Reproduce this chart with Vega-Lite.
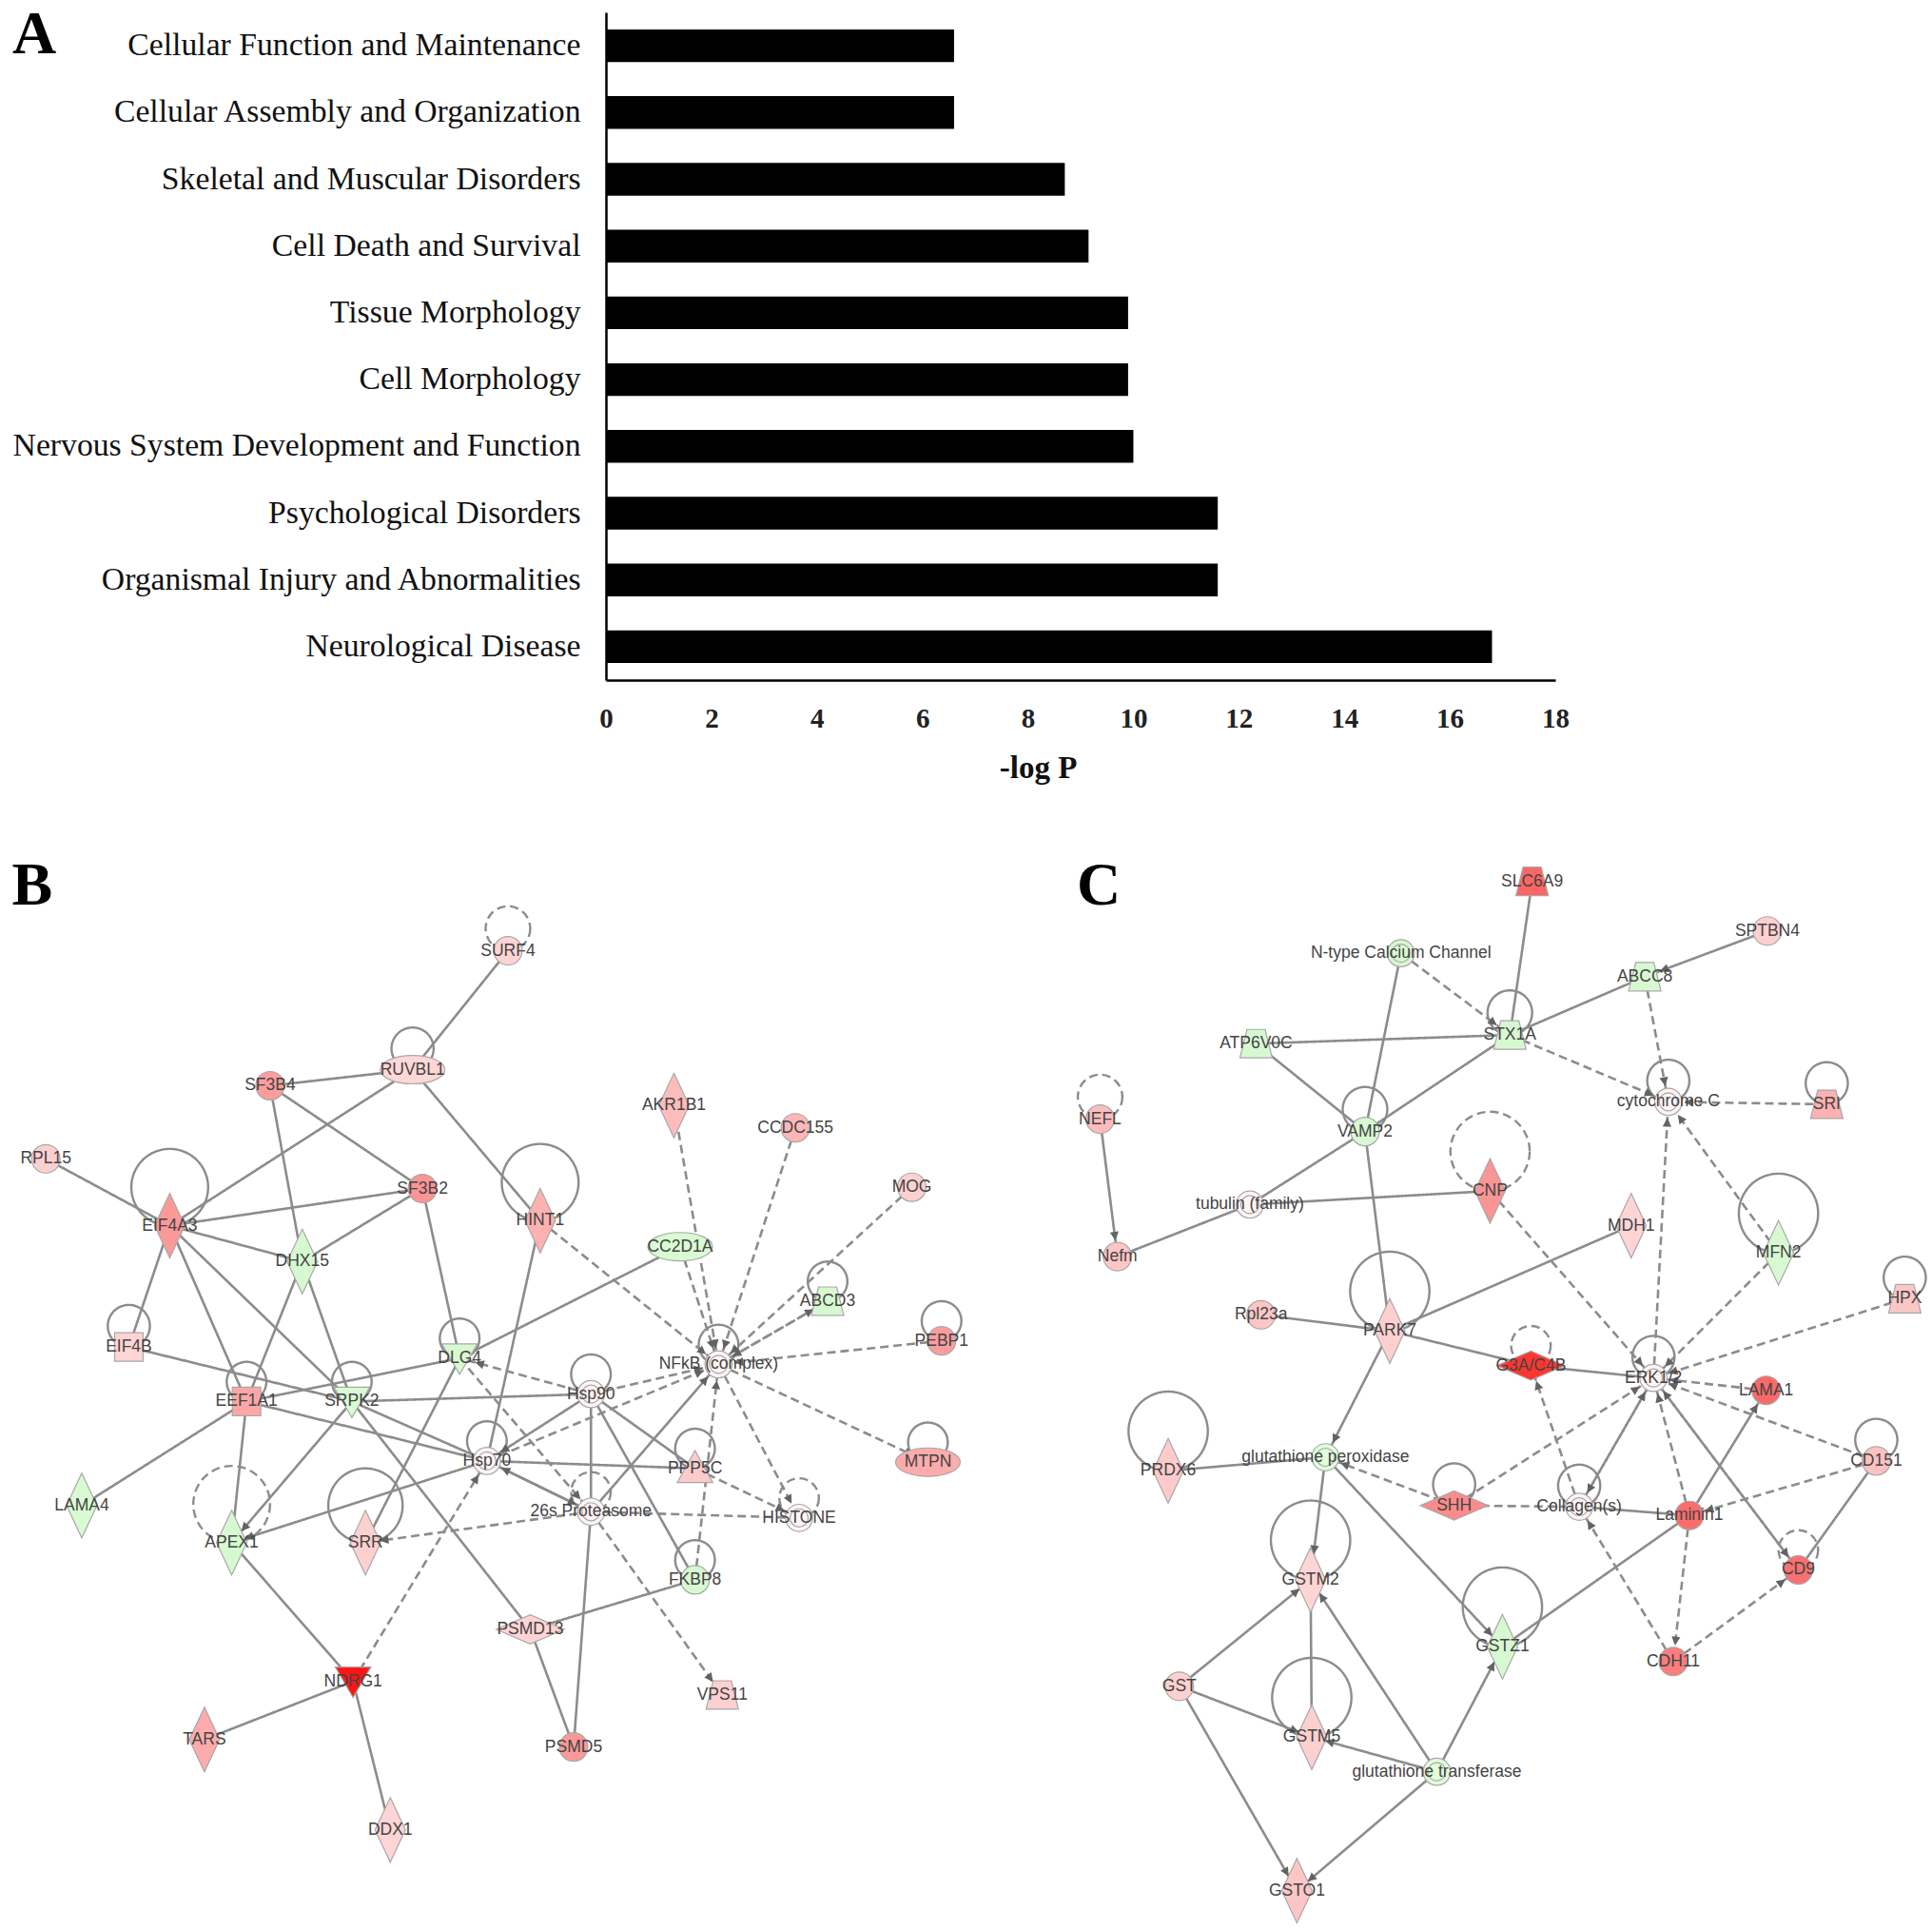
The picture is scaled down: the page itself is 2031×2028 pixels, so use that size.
{
"$schema":"https://vega.github.io/schema/vega-lite/v6.json",
"background":"white",
"padding":{"left":0,"top":5,"right":0,"bottom":0},
"config":{"view":{"stroke":null}},
"bounds":"flush",
"spacing":872,
"datasets":{
"bars":[
{"category":"Cellular Function and Maintenance","logp":6.6},
{"category":"Cellular Assembly and Organization","logp":6.6},
{"category":"Skeletal and Muscular Disorders","logp":8.7},
{"category":"Cell Death and Survival","logp":9.15},
{"category":"Tissue Morphology","logp":9.9},
{"category":"Cell Morphology","logp":9.9},
{"category":"Nervous System Development and Function","logp":10},
{"category":"Psychological Disorders","logp":11.6},
{"category":"Organismal Injury and Abnormalities","logp":11.6},
{"category":"Neurological Disease","logp":16.8}],
"nodesB":[
{"id":"SURF4","x":410,"y":768,"type":"other","fc":0.9,"loop":36,"loopKind":"dashed"},
{"id":"RUVBL1","x":333,"y":864,"type":"regulator","fc":0.8,"loop":34,"loopKind":"solid"},
{"id":"SF3B4","x":218,"y":877,"type":"other","fc":2},
{"id":"SF3B2","x":341,"y":960,"type":"other","fc":2.2},
{"id":"RPL15","x":37,"y":936,"type":"other","fc":1},
{"id":"EIF4A3","x":137,"y":990,"type":"enzyme","fc":2.1,"loop":62,"loopKind":"solid"},
{"id":"DHX15","x":244,"y":1019,"type":"enzyme","fc":-0.8},
{"id":"HINT1","x":436,"y":986,"type":"enzyme","fc":1.6,"loop":62,"loopKind":"solid"},
{"id":"AKR1B1","x":544,"y":893,"type":"enzyme","fc":1.4},
{"id":"CCDC155","x":642,"y":911,"type":"other","fc":1.5},
{"id":"MOG","x":736,"y":959,"type":"other","fc":1},
{"id":"CC2D1A","x":549,"y":1007,"type":"regulator","fc":-0.7},
{"id":"ABCD3","x":668,"y":1051,"type":"transporter","fc":-0.8,"loop":32,"loopKind":"solid"},
{"id":"PEBP1","x":760,"y":1083,"type":"other","fc":2,"loop":32,"loopKind":"solid"},
{"id":"MTPN","x":749,"y":1181,"type":"regulator","fc":1.7,"loop":32,"loopKind":"solid"},
{"id":"NFkB (complex)","x":580,"y":1102,"type":"complex","fc":0,"loop":32,"loopKind":"solid"},
{"id":"EIF4B","x":104,"y":1088,"type":"cytokine","fc":0.9,"loop":34,"loopKind":"solid"},
{"id":"DLG4","x":371,"y":1097,"type":"kinase","fc":-0.8,"loop":32,"loopKind":"solid"},
{"id":"EEF1A1","x":199,"y":1132,"type":"cytokine","fc":1.8,"loop":32,"loopKind":"solid"},
{"id":"SRPK2","x":284,"y":1132,"type":"kinase","fc":-0.7,"loop":32,"loopKind":"solid"},
{"id":"Hsp90","x":477,"y":1126,"type":"complex","fc":0,"loop":32,"loopKind":"solid"},
{"id":"Hsp70","x":393,"y":1180,"type":"complex","fc":0,"loop":32,"loopKind":"solid"},
{"id":"PPP5C","x":561,"y":1186,"type":"phosphatase","fc":1.1,"loop":32,"loopKind":"solid"},
{"id":"26s Proteasome","x":477,"y":1221,"type":"complex","fc":0,"loop":32,"loopKind":"dashed"},
{"id":"HISTONE","x":645,"y":1226,"type":"complex","fc":0,"loop":32,"loopKind":"dashed"},
{"id":"LAMA4","x":66,"y":1216,"type":"enzyme","fc":-0.7},
{"id":"APEX1","x":187,"y":1246,"type":"enzyme","fc":-0.8,"loop":62,"loopKind":"dashed"},
{"id":"SRR","x":295,"y":1246,"type":"enzyme","fc":1,"loop":60,"loopKind":"solid"},
{"id":"FKBP8","x":561,"y":1276,"type":"other","fc":-0.8,"loop":32,"loopKind":"solid"},
{"id":"PSMD13","x":428,"y":1316,"type":"peptidase","fc":0.9},
{"id":"VPS11","x":583,"y":1369,"type":"transporter","fc":1},
{"id":"NDRG1","x":285,"y":1358,"type":"kinase","fc":5},
{"id":"TARS","x":165,"y":1405,"type":"enzyme","fc":1.7},
{"id":"PSMD5","x":463,"y":1411,"type":"other","fc":2.1},
{"id":"DDX1","x":315,"y":1478,"type":"enzyme","fc":0.9}],
"edgesB":[
{"s":"SURF4","t":"RUVBL1","rel":"solid","a":0},
{"s":"RUVBL1","t":"SF3B4","rel":"solid","a":0},
{"s":"RUVBL1","t":"EIF4A3","rel":"solid","a":0},
{"s":"RUVBL1","t":"HINT1","rel":"solid","a":0},
{"s":"SF3B4","t":"SF3B2","rel":"solid","a":0},
{"s":"SF3B4","t":"DHX15","rel":"solid","a":0},
{"s":"SF3B2","t":"EIF4A3","rel":"solid","a":0},
{"s":"SF3B2","t":"DHX15","rel":"solid","a":0},
{"s":"SF3B2","t":"DLG4","rel":"solid","a":0},
{"s":"RPL15","t":"EIF4A3","rel":"solid","a":0},
{"s":"EIF4A3","t":"DHX15","rel":"solid","a":0},
{"s":"EIF4A3","t":"EIF4B","rel":"solid","a":0},
{"s":"EIF4A3","t":"EEF1A1","rel":"solid","a":0},
{"s":"EIF4A3","t":"SRPK2","rel":"solid","a":0},
{"s":"DHX15","t":"EEF1A1","rel":"solid","a":0},
{"s":"DHX15","t":"SRPK2","rel":"solid","a":0},
{"s":"EIF4B","t":"SRPK2","rel":"solid","a":0},
{"s":"EEF1A1","t":"DLG4","rel":"solid","a":0},
{"s":"EEF1A1","t":"Hsp70","rel":"solid","a":0},
{"s":"EEF1A1","t":"LAMA4","rel":"solid","a":0},
{"s":"EEF1A1","t":"APEX1","rel":"solid","a":0},
{"s":"SRPK2","t":"Hsp90","rel":"solid","a":0},
{"s":"SRPK2","t":"Hsp70","rel":"solid","a":0},
{"s":"SRPK2","t":"APEX1","rel":"solid","a":1},
{"s":"SRPK2","t":"PSMD13","rel":"solid","a":0},
{"s":"DLG4","t":"CC2D1A","rel":"solid","a":0},
{"s":"DLG4","t":"SRR","rel":"solid","a":0},
{"s":"HINT1","t":"Hsp70","rel":"solid","a":0},
{"s":"Hsp70","t":"APEX1","rel":"solid","a":1},
{"s":"Hsp90","t":"Hsp70","rel":"solid","a":1},
{"s":"Hsp70","t":"PPP5C","rel":"solid","a":0},
{"s":"Hsp90","t":"PPP5C","rel":"solid","a":0},
{"s":"Hsp90","t":"26s Proteasome","rel":"solid","a":0},
{"s":"Hsp90","t":"FKBP8","rel":"solid","a":0},
{"s":"26s Proteasome","t":"Hsp70","rel":"solid","a":1},
{"s":"Hsp70","t":"26s Proteasome","rel":"solid","a":1},
{"s":"26s Proteasome","t":"PSMD5","rel":"solid","a":0},
{"s":"26s Proteasome","t":"NFkB (complex)","rel":"solid","a":1},
{"s":"PSMD13","t":"FKBP8","rel":"solid","a":0},
{"s":"PSMD13","t":"PSMD5","rel":"solid","a":0},
{"s":"APEX1","t":"NDRG1","rel":"solid","a":0},
{"s":"NDRG1","t":"TARS","rel":"solid","a":0},
{"s":"NDRG1","t":"DDX1","rel":"solid","a":0},
{"s":"NDRG1","t":"Hsp70","rel":"dashed","a":1},
{"s":"HINT1","t":"NFkB (complex)","rel":"dashed","a":1},
{"s":"AKR1B1","t":"NFkB (complex)","rel":"dashed","a":1},
{"s":"CCDC155","t":"NFkB (complex)","rel":"dashed","a":1},
{"s":"MOG","t":"NFkB (complex)","rel":"dashed","a":1},
{"s":"CC2D1A","t":"NFkB (complex)","rel":"dashed","a":1},
{"s":"ABCD3","t":"NFkB (complex)","rel":"dashed","a":1},
{"s":"NFkB (complex)","t":"ABCD3","rel":"dashed","a":1},
{"s":"PEBP1","t":"NFkB (complex)","rel":"dashed","a":1},
{"s":"NFkB (complex)","t":"MTPN","rel":"dashed","a":1},
{"s":"NFkB (complex)","t":"HISTONE","rel":"dashed","a":1},
{"s":"FKBP8","t":"NFkB (complex)","rel":"dashed","a":1},
{"s":"PPP5C","t":"HISTONE","rel":"dashed","a":1},
{"s":"Hsp90","t":"DLG4","rel":"dashed","a":1},
{"s":"DLG4","t":"26s Proteasome","rel":"dashed","a":1},
{"s":"Hsp90","t":"NFkB (complex)","rel":"dashed","a":1},
{"s":"Hsp70","t":"NFkB (complex)","rel":"dashed","a":1},
{"s":"26s Proteasome","t":"HISTONE","rel":"dashed","a":0},
{"s":"26s Proteasome","t":"SRR","rel":"dashed","a":1},
{"s":"26s Proteasome","t":"VPS11","rel":"dashed","a":1}],
"nodesC":[
{"id":"SLC6A9","x":1237,"y":712,"type":"transporter","fc":3.3},
{"id":"SPTBN4","x":1427,"y":752,"type":"other","fc":1},
{"id":"N-type Calcium Channel","x":1131,"y":770,"type":"complex","fc":-0.8},
{"id":"ABCC8","x":1328,"y":789,"type":"transporter","fc":-0.8},
{"id":"ATP6V0C","x":1014,"y":843,"type":"transporter","fc":-0.8},
{"id":"STX1A","x":1219,"y":836,"type":"transporter","fc":-0.8,"loop":36,"loopKind":"solid"},
{"id":"NEFL","x":888,"y":904,"type":"other","fc":1.4,"loop":36,"loopKind":"dashed"},
{"id":"VAMP2","x":1102,"y":914,"type":"other","fc":-0.8,"loop":36,"loopKind":"solid"},
{"id":"cytochrome C","x":1347,"y":890,"type":"complex","fc":0,"loop":34,"loopKind":"solid"},
{"id":"SRI","x":1475,"y":892,"type":"transporter","fc":1.6,"loop":34,"loopKind":"solid"},
{"id":"CNP","x":1203,"y":962,"type":"enzyme","fc":2.2,"loop":64,"loopKind":"dashed"},
{"id":"tubulin (family)","x":1009,"y":973,"type":"complex","fc":0},
{"id":"MDH1","x":1317,"y":990,"type":"enzyme","fc":0.9},
{"id":"MFN2","x":1436,"y":1012,"type":"enzyme","fc":-0.8,"loop":64,"loopKind":"solid"},
{"id":"Nefm","x":902,"y":1015,"type":"other","fc":1.2},
{"id":"Rpl23a","x":1018,"y":1062,"type":"other","fc":1.2},
{"id":"PARK7","x":1122,"y":1075,"type":"enzyme","fc":1,"loop":64,"loopKind":"solid"},
{"id":"HPX","x":1538,"y":1049,"type":"transporter","fc":1.2,"loop":34,"loopKind":"solid"},
{"id":"G3A/C4B","x":1236,"y":1103,"type":"peptidase","fc":4.5,"loop":32,"loopKind":"dashed"},
{"id":"ERK1/2","x":1335,"y":1113,"type":"complex","fc":0,"loop":34,"loopKind":"solid"},
{"id":"LAMA1","x":1426,"y":1123,"type":"other","fc":3.2},
{"id":"CD151","x":1515,"y":1180,"type":"other","fc":1.3,"loop":34,"loopKind":"solid"},
{"id":"glutathione peroxidase","x":1070,"y":1177,"type":"complex","fc":-0.3},
{"id":"PRDX6","x":943,"y":1188,"type":"enzyme","fc":1.1,"loop":64,"loopKind":"solid"},
{"id":"SHH","x":1174,"y":1216,"type":"peptidase","fc":2.4,"loop":34,"loopKind":"solid"},
{"id":"Collagen(s)","x":1275,"y":1217,"type":"complex","fc":0,"loop":34,"loopKind":"solid"},
{"id":"Laminin1","x":1364,"y":1224,"type":"other","fc":3.1},
{"id":"CD9","x":1452,"y":1268,"type":"other","fc":3,"loop":32,"loopKind":"dashed"},
{"id":"GSTM2","x":1058,"y":1276,"type":"enzyme","fc":0.9,"loop":64,"loopKind":"solid"},
{"id":"GSTZ1","x":1213,"y":1330,"type":"enzyme","fc":-0.8,"loop":64,"loopKind":"solid"},
{"id":"CDH11","x":1351,"y":1342,"type":"other","fc":2.7},
{"id":"GST","x":952,"y":1362,"type":"other","fc":1},
{"id":"GSTM5","x":1059,"y":1403,"type":"enzyme","fc":1,"loop":64,"loopKind":"solid"},
{"id":"glutathione transferase","x":1160,"y":1431,"type":"complex","fc":-0.3},
{"id":"GSTO1","x":1047,"y":1527,"type":"enzyme","fc":1.2}],
"edgesC":[
{"s":"SLC6A9","t":"STX1A","rel":"solid","a":0},
{"s":"SPTBN4","t":"ABCC8","rel":"solid","a":1},
{"s":"ABCC8","t":"STX1A","rel":"solid","a":0},
{"s":"ATP6V0C","t":"STX1A","rel":"solid","a":0},
{"s":"ATP6V0C","t":"VAMP2","rel":"solid","a":0},
{"s":"N-type Calcium Channel","t":"VAMP2","rel":"solid","a":0},
{"s":"STX1A","t":"VAMP2","rel":"solid","a":0},
{"s":"VAMP2","t":"tubulin (family)","rel":"solid","a":0},
{"s":"tubulin (family)","t":"Nefm","rel":"solid","a":0},
{"s":"tubulin (family)","t":"CNP","rel":"solid","a":0},
{"s":"NEFL","t":"Nefm","rel":"solid","a":1},
{"s":"VAMP2","t":"PARK7","rel":"solid","a":0},
{"s":"PARK7","t":"Rpl23a","rel":"solid","a":0},
{"s":"PARK7","t":"MDH1","rel":"solid","a":0},
{"s":"PARK7","t":"G3A/C4B","rel":"solid","a":0},
{"s":"G3A/C4B","t":"ERK1/2","rel":"solid","a":0},
{"s":"PARK7","t":"glutathione peroxidase","rel":"solid","a":1},
{"s":"PRDX6","t":"glutathione peroxidase","rel":"solid","a":0},
{"s":"glutathione peroxidase","t":"GSTM2","rel":"solid","a":1},
{"s":"glutathione peroxidase","t":"GSTZ1","rel":"solid","a":1},
{"s":"GST","t":"GSTM2","rel":"solid","a":1},
{"s":"GST","t":"GSTM5","rel":"solid","a":1},
{"s":"GST","t":"GSTO1","rel":"solid","a":1},
{"s":"GSTM2","t":"GSTM5","rel":"solid","a":0},
{"s":"glutathione transferase","t":"GSTM2","rel":"solid","a":1},
{"s":"glutathione transferase","t":"GSTM5","rel":"solid","a":1},
{"s":"glutathione transferase","t":"GSTO1","rel":"solid","a":1},
{"s":"glutathione transferase","t":"GSTZ1","rel":"solid","a":1},
{"s":"GSTZ1","t":"Laminin1","rel":"solid","a":0},
{"s":"Laminin1","t":"LAMA1","rel":"solid","a":1},
{"s":"Laminin1","t":"Collagen(s)","rel":"solid","a":0},
{"s":"CD151","t":"CD9","rel":"solid","a":0},
{"s":"N-type Calcium Channel","t":"STX1A","rel":"dashed","a":1},
{"s":"STX1A","t":"cytochrome C","rel":"dashed","a":1},
{"s":"ABCC8","t":"cytochrome C","rel":"dashed","a":1},
{"s":"SRI","t":"cytochrome C","rel":"dashed","a":1},
{"s":"ERK1/2","t":"cytochrome C","rel":"dashed","a":1},
{"s":"MFN2","t":"cytochrome C","rel":"dashed","a":1},
{"s":"MFN2","t":"ERK1/2","rel":"dashed","a":1},
{"s":"HPX","t":"ERK1/2","rel":"dashed","a":1},
{"s":"CNP","t":"ERK1/2","rel":"dashed","a":1},
{"s":"LAMA1","t":"ERK1/2","rel":"dashed","a":1},
{"s":"CD151","t":"ERK1/2","rel":"dashed","a":1},
{"s":"CD151","t":"Laminin1","rel":"dashed","a":1},
{"s":"Laminin1","t":"ERK1/2","rel":"dashed","a":1},
{"s":"ERK1/2","t":"CD9","rel":"dashed","a":1},
{"s":"CD9","t":"ERK1/2","rel":"dashed","a":1},
{"s":"ERK1/2","t":"Collagen(s)","rel":"dashed","a":1},
{"s":"Collagen(s)","t":"ERK1/2","rel":"dashed","a":1},
{"s":"SHH","t":"ERK1/2","rel":"dashed","a":1},
{"s":"SHH","t":"glutathione peroxidase","rel":"dashed","a":1},
{"s":"SHH","t":"Collagen(s)","rel":"dashed","a":0},
{"s":"Collagen(s)","t":"G3A/C4B","rel":"dashed","a":1},
{"s":"CDH11","t":"Collagen(s)","rel":"dashed","a":1},
{"s":"Laminin1","t":"CDH11","rel":"dashed","a":1},
{"s":"CDH11","t":"CD9","rel":"dashed","a":1}]
},
"vconcat":[
{"hconcat":[
{"width":637,"height":702,
"data":{"values":[{"letter":"A","x":36,"y":24}]},
"mark":{"type":"text","font":"Liberation Serif","fontWeight":"bold","fontSize":64,"color":"#000000","align":"center","baseline":"middle"},
"encoding":{
"x":{"field":"x","type":"quantitative","axis":null,"scale":{"domain":[0,637]}},
"y":{"field":"y","type":"quantitative","axis":null,"scale":{"domain":[702,0]}},
"text":{"field":"letter"}}},
{"width":998,"height":702,
"data":{"name":"bars"},
"mark":{"type":"bar","color":"#000000"},
"encoding":{
"x":{"field":"logp","type":"quantitative","scale":{"domain":[0,18]},
"axis":{"title":"-log P","values":[0,2,4,6,8,10,12,14,16,18],"grid":false,"ticks":false,"domain":true,"domainColor":"#000000","domainWidth":2.5,"labelFont":"Liberation Serif","labelFontSize":29,"labelFontWeight":"bold","labelColor":"#222222","labelPadding":26,"labelFlush":false,"titleFont":"Liberation Serif","titleFontSize":33,"titleFontWeight":"bold","titleColor":"#111111","titleX":454,"titleY":76}},
"y":{"field":"category","type":"nominal","sort":null,"scale":{"paddingInner":0.51,"paddingOuter":0.255},
"axis":{"title":null,"grid":false,"ticks":false,"domain":true,"domainColor":"#000000","domainWidth":2.5,"labelFont":"Liberation Serif","labelFontSize":33.7,"labelColor":"#111111","labelPadding":27,"labelLimit":640}}}}
],"spacing":0,"bounds":"flush"},
{"hconcat":[
{"width":1094,"height":1143,
"encoding":{
"x":{"field":"x","type":"quantitative","axis":null,"scale":{"domain":[0,840]}},
"y":{"field":"y","type":"quantitative","axis":null,"scale":{"domain":[1558,680]}}},
"layer":[
{"data":{"name":"nodesB"},"transform":[{"filter":"isValid(datum.loop)"},{"calculate":"datum.y-datum.loop/2","as":"y"},{"calculate":"pow(datum.loop*1.302,2)","as":"area"}],
"mark":{"type":"point","shape":"circle","filled":false,"stroke":"#8c8c8c","strokeWidth":2.4,"opacity":1},
"encoding":{"size":{"field":"area","type":"quantitative","scale":null},"strokeDash":{"field":"loopKind","type":"nominal","legend":null,"scale":{"domain":["solid","dashed"],"range":[[1,0],[9,5]]}}}},
{"data":{"name":"edgesB"},"transform":[{"lookup":"s","from":{"data":{"name":"nodesB"},"key":"id","fields":["x","y"]},"as":["x","y"]},{"lookup":"t","from":{"data":{"name":"nodesB"},"key":"id","fields":["x","y"]},"as":["tx","ty"]}],
"mark":{"type":"rule","stroke":"#8c8c8c","strokeWidth":2.6},
"encoding":{"x2":{"field":"tx"},"y2":{"field":"ty"},"strokeDash":{"field":"rel","type":"nominal","legend":null,"scale":{"domain":["solid","dashed"],"range":[[1,0],[11,6]]}}}},
{"data":{"name":"edgesB"},"transform":[{"filter":"datum.a===1"},{"lookup":"s","from":{"data":{"name":"nodesB"},"key":"id","fields":["x","y"]},"as":["sx","sy"]},{"lookup":"t","from":{"data":{"name":"nodesB"},"key":"id","fields":["x","y","type"]},"as":["tx","ty","tt"]},{"calculate":"sqrt(pow(datum.tx-datum.sx,2)+pow(datum.ty-datum.sy,2))","as":"len"},{"calculate":"(datum.tx-datum.sx)/datum.len","as":"ux"},{"calculate":"(datum.ty-datum.sy)/datum.len","as":"uy"},{"calculate":"datum.tt==='enzyme'?26/(abs(datum.ux)/0.47+abs(datum.uy)):13","as":"gap"},{"calculate":"datum.tx-datum.gap*datum.ux","as":"x"},{"calculate":"datum.ty-datum.gap*datum.uy","as":"y"},{"calculate":"atan2(datum.ux,-datum.uy)*180/PI","as":"heading"}],
"mark":{"type":"point","shape":"M0,0L0.55,1.1L-0.55,1.1Z","filled":true,"color":"#636363","opacity":1,"size":280},
"encoding":{"angle":{"field":"heading","type":"quantitative","scale":null}}},
{"data":{"name":"nodesB"},
"mark":{"type":"point","filled":true,"size":4624,"stroke":"#a8a8a8","strokeWidth":1.2,"opacity":1},
"encoding":{"shape":{"field":"type","type":"nominal","legend":null,"scale":{"domain":["other","enzyme","peptidase","transporter","kinase","cytokine","regulator","complex","phosphatase"],"range":["M-0.44,0A0.44,0.44 0 1 1 0.44,0A0.44,0.44 0 1 1 -0.44,0Z","M0,-1L0.47,0L0,1L-0.47,0Z","M-1.05,0L0,-0.45L1.05,0L0,0.45Z","M-0.28,-0.44L0.28,-0.44L0.5,0.44L-0.5,0.44Z","M-0.55,-0.44L0.55,-0.44L0,0.5Z","M-0.44,-0.44L0.44,-0.44L0.44,0.44L-0.44,0.44Z","M-1,0A1,0.44 0 1 1 1,0A1,0.44 0 1 1 -1,0Z","M-0.42,0A0.42,0.42 0 1 1 0.42,0A0.42,0.42 0 1 1 -0.42,0ZM-0.28,0A0.28,0.28 0 1 1 0.28,0A0.28,0.28 0 1 1 -0.28,0Z","M0,-0.55L0.55,0.44L-0.55,0.44Z"]}},
"fill":{"field":"fc","type":"quantitative","legend":null,"scale":{"domain":[-1,0,1,2,3,5],"range":["#d3f5cd","#ffffff","#fdd0d0","#fb9d9d","#f87070","#ff1414"]}}}},
{"data":{"name":"nodesB"},
"mark":{"type":"text","font":"Liberation Sans","fontSize":17.5,"color":"#444444","align":"center","baseline":"middle"},
"encoding":{"text":{"field":"id"}}},
{"data":{"values":[{"letter":"B","x":26,"y":716}]},
"mark":{"type":"text","font":"Liberation Serif","fontWeight":"bold","fontSize":64,"color":"#000000","align":"center","baseline":"middle"},
"encoding":{"text":{"field":"letter"}}}
]},
{"width":937,"height":1143,
"encoding":{
"x":{"field":"x","type":"quantitative","axis":null,"scale":{"domain":[840,1560]}},
"y":{"field":"y","type":"quantitative","axis":null,"scale":{"domain":[1558,680]}}},
"layer":[
{"data":{"name":"nodesC"},"transform":[{"filter":"isValid(datum.loop)"},{"calculate":"datum.y-datum.loop/2","as":"y"},{"calculate":"pow(datum.loop*1.302,2)","as":"area"}],
"mark":{"type":"point","shape":"circle","filled":false,"stroke":"#8c8c8c","strokeWidth":2.4,"opacity":1},
"encoding":{"size":{"field":"area","type":"quantitative","scale":null},"strokeDash":{"field":"loopKind","type":"nominal","legend":null,"scale":{"domain":["solid","dashed"],"range":[[1,0],[9,5]]}}}},
{"data":{"name":"edgesC"},"transform":[{"lookup":"s","from":{"data":{"name":"nodesC"},"key":"id","fields":["x","y"]},"as":["x","y"]},{"lookup":"t","from":{"data":{"name":"nodesC"},"key":"id","fields":["x","y"]},"as":["tx","ty"]}],
"mark":{"type":"rule","stroke":"#8c8c8c","strokeWidth":2.6},
"encoding":{"x2":{"field":"tx"},"y2":{"field":"ty"},"strokeDash":{"field":"rel","type":"nominal","legend":null,"scale":{"domain":["solid","dashed"],"range":[[1,0],[11,6]]}}}},
{"data":{"name":"edgesC"},"transform":[{"filter":"datum.a===1"},{"lookup":"s","from":{"data":{"name":"nodesC"},"key":"id","fields":["x","y"]},"as":["sx","sy"]},{"lookup":"t","from":{"data":{"name":"nodesC"},"key":"id","fields":["x","y","type"]},"as":["tx","ty","tt"]},{"calculate":"sqrt(pow(datum.tx-datum.sx,2)+pow(datum.ty-datum.sy,2))","as":"len"},{"calculate":"(datum.tx-datum.sx)/datum.len","as":"ux"},{"calculate":"(datum.ty-datum.sy)/datum.len","as":"uy"},{"calculate":"datum.tt==='enzyme'?26/(abs(datum.ux)/0.47+abs(datum.uy)):13","as":"gap"},{"calculate":"datum.tx-datum.gap*datum.ux","as":"x"},{"calculate":"datum.ty-datum.gap*datum.uy","as":"y"},{"calculate":"atan2(datum.ux,-datum.uy)*180/PI","as":"heading"}],
"mark":{"type":"point","shape":"M0,0L0.55,1.1L-0.55,1.1Z","filled":true,"color":"#636363","opacity":1,"size":280},
"encoding":{"angle":{"field":"heading","type":"quantitative","scale":null}}},
{"data":{"name":"nodesC"},
"mark":{"type":"point","filled":true,"size":4624,"stroke":"#a8a8a8","strokeWidth":1.2,"opacity":1},
"encoding":{"shape":{"field":"type","type":"nominal","legend":null,"scale":{"domain":["other","enzyme","peptidase","transporter","kinase","cytokine","regulator","complex","phosphatase"],"range":["M-0.44,0A0.44,0.44 0 1 1 0.44,0A0.44,0.44 0 1 1 -0.44,0Z","M0,-1L0.47,0L0,1L-0.47,0Z","M-1.05,0L0,-0.45L1.05,0L0,0.45Z","M-0.28,-0.44L0.28,-0.44L0.5,0.44L-0.5,0.44Z","M-0.55,-0.44L0.55,-0.44L0,0.5Z","M-0.44,-0.44L0.44,-0.44L0.44,0.44L-0.44,0.44Z","M-1,0A1,0.44 0 1 1 1,0A1,0.44 0 1 1 -1,0Z","M-0.42,0A0.42,0.42 0 1 1 0.42,0A0.42,0.42 0 1 1 -0.42,0ZM-0.28,0A0.28,0.28 0 1 1 0.28,0A0.28,0.28 0 1 1 -0.28,0Z","M0,-0.55L0.55,0.44L-0.55,0.44Z"]}},
"fill":{"field":"fc","type":"quantitative","legend":null,"scale":{"domain":[-1,0,1,2,3,5],"range":["#d3f5cd","#ffffff","#fdd0d0","#fb9d9d","#f87070","#ff1414"]}}}},
{"data":{"name":"nodesC"},
"mark":{"type":"text","font":"Liberation Sans","fontSize":17.5,"color":"#444444","align":"center","baseline":"middle"},
"encoding":{"text":{"field":"id"}}},
{"data":{"values":[{"letter":"C","x":887,"y":716}]},
"mark":{"type":"text","font":"Liberation Serif","fontWeight":"bold","fontSize":64,"color":"#000000","align":"center","baseline":"middle"},
"encoding":{"text":{"field":"letter"}}}
]}
],"spacing":0,"bounds":"flush"}
]
}
